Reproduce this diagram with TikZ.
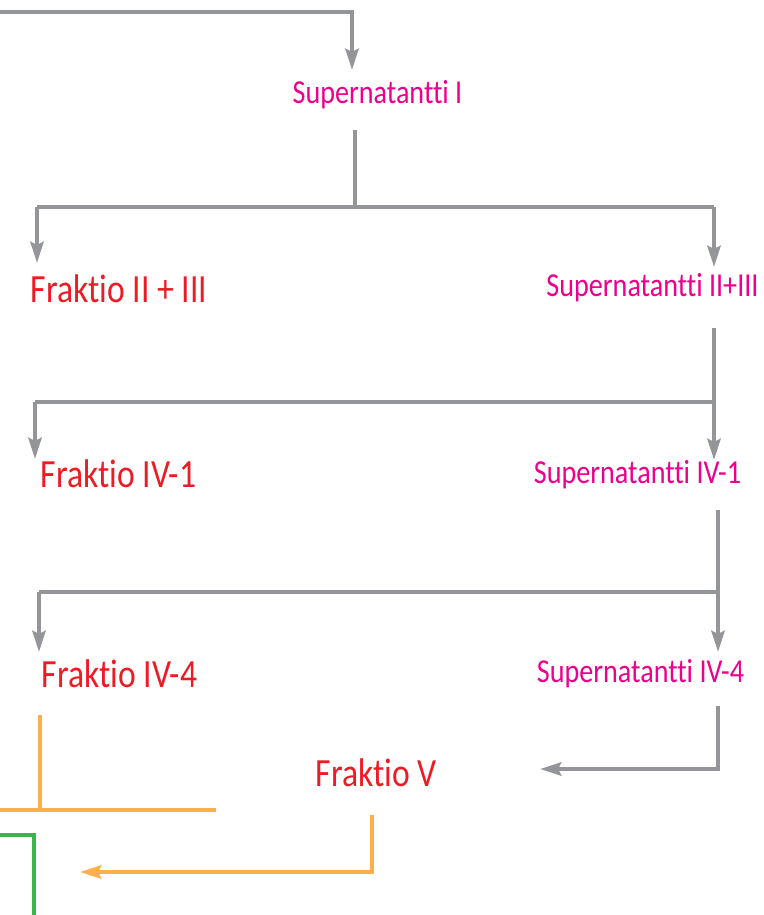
\documentclass[tikz,border=0pt]{standalone}
\usepackage{fontspec}
\setmainfont{Carlito}[FakeStretch=0.84, RawFeature={-liga;-clig;-calt;-dlig}]
\usetikzlibrary{arrows.meta}
\definecolor{gr}{RGB}{148,149,153}
\definecolor{rd}{RGB}{237,28,36}
\definecolor{pk}{RGB}{236,0,140}
\definecolor{org}{RGB}{251,176,76}
\definecolor{grn}{RGB}{57,181,74}
\tikzset{
  conn/.style={line width=4.5pt, line join=miter},
  grayline/.style={conn, draw=gr},
  orangeline/.style={conn, draw=org},
  greenline/.style={line width=4.5pt, draw=grn, line join=miter},
  tip/.style={-{Stealth[length=21pt,width=13pt,inset=3pt]}},
  fr/.style={text=rd, font=\fontsize{40}{44}\selectfont, anchor=base, inner sep=0pt},
  sn/.style={text=pk, font=\fontsize{33.5}{36}\selectfont, anchor=base, inner sep=0pt}
}
\begin{document}
\begin{tikzpicture}[x=1pt,y=-1pt]
\useasboundingbox (0,0) rectangle (763,915);
% text nodes
\node[sn] (s1)  at (377.5,104) {Supernatantti I};
\node[fr] (f23) at (119,302) {Fraktio II + III};
\node[sn] (s23) at (652.5,296) {Supernatantti II+III};
\node[fr] (f41) at (118.5,487) {Fraktio IV-1};
\node[sn] (s41) at (637.5,483) {Supernatantti IV-1};
\node[fr] (f44) at (119.5,687) {Fraktio IV-4};
\node[sn] (s44) at (640.5,682) {Supernatantti IV-4};
\node[fr] (f5)  at (376.5,786) {Fraktio V};
% coordinates
\coordinate (a0) at (0,12);
\coordinate (a1) at (352,12);
\coordinate (a2) at (352,70);
\coordinate (b0) at (355,130);
\coordinate (b1) at (355,207);
\coordinate (bl) at (37,207);
\coordinate (br) at (714,207);
\coordinate (blt) at (37,263);
\coordinate (brt) at (714,267);
\coordinate (c0) at (714,328);
\coordinate (c1) at (714,402);
\coordinate (cl) at (35,402);
\coordinate (crt) at (714,460);
\coordinate (clt) at (35,459);
\coordinate (d0) at (718,510);
\coordinate (d1) at (718,592);
\coordinate (dl) at (39,592);
\coordinate (drt) at (718,652);
\coordinate (dlt) at (39,652);
\coordinate (e0) at (718,706);
\coordinate (e1) at (718,769);
\coordinate (et) at (540,769);
\coordinate (g0) at (40,715);
\coordinate (g1) at (40,810);
\coordinate (gl) at (0,810);
\coordinate (gr) at (216,810);
\coordinate (h0) at (372,815);
\coordinate (h1) at (372,872);
\coordinate (ht) at (80,872);
\coordinate (k0) at (0,835);
\coordinate (k1) at (34,835);
\coordinate (k2) at (34,915);
% gray connectors
\draw[grayline,tip] (a0) -- (a1) -- (a2);
\draw[grayline] (b0) -- (b1);
\draw[grayline] (bl) -- (br);
\draw[grayline,tip] (bl) -- (blt);
\draw[grayline,tip] (br) -- (brt);
\draw[grayline,tip] (c0) -- (crt);
\draw[grayline] (cl) -- (c1);
\draw[grayline,tip] (cl) -- (clt);
\draw[grayline,tip] (d0) -- (drt);
\draw[grayline] (dl) -- (d1);
\draw[grayline,tip] (dl) -- (dlt);
\draw[grayline,tip] (e0) -- (e1) -- (et);
% orange connectors
\draw[orangeline] (g0) -- (g1);
\draw[orangeline] (gl) -- (gr);
\draw[orangeline,tip] (h0) -- (h1) -- (ht);
% green
\draw[greenline] (k0) -- (k1) -- (k2);
\end{tikzpicture}
\end{document}
